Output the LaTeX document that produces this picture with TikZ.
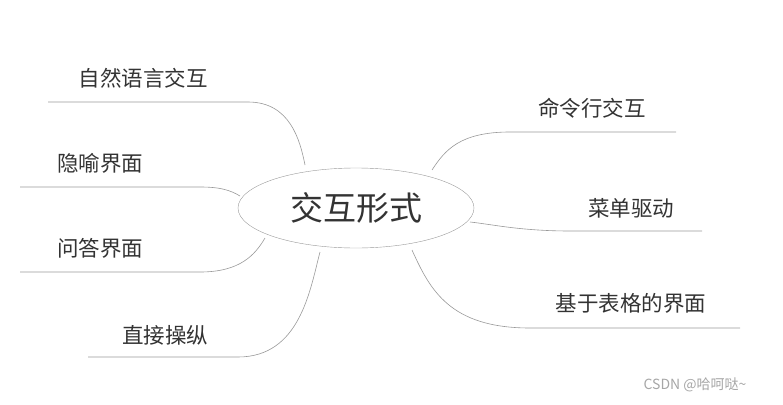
\documentclass[tikz,border=0pt]{standalone}
\usepackage{fontspec}
\usetikzlibrary{shapes.geometric}
\newfontfamily\cjk{Noto Sans CJK SC}
\begin{document}
\begin{tikzpicture}[x=1pt,y=-1pt,
 br/.style={draw=gray!80,line width=0.6pt},
 lab/.style={font=\cjk\fontsize{21.5}{24}\selectfont,text=black!80,inner sep=0pt}]
\useasboundingbox (0,0) rectangle (783,404);
\node[ellipse,draw=gray!80,minimum width=236,minimum height=80,inner sep=0pt] (c) at (356,208) {};
\node[font=\cjk\fontsize{33}{36}\selectfont,text=black!80] at (c) {交互形式};
\node[lab] (t1) at (143,78) {自然语言交互};
\node[lab] (t2) at (100,163) {隐喻界面};
\node[lab] (t3) at (100,248) {问答界面};
\node[lab] (t4) at (165,335) {直接操纵};
\node[lab] (t5) at (592,108) {命令行交互};
\node[lab] (t6) at (631,208) {菜单驱动};
\node[lab] (t7) at (631,303) {基于表格的界面};
\coordinate (a1) at (48,102); \coordinate (b1) at (248,102);
\coordinate (a2) at (20,187); \coordinate (b2) at (200,187);
\coordinate (a3) at (20,272); \coordinate (b3) at (200,272);
\coordinate (a4) at (88,357); \coordinate (b4) at (238,357);
\coordinate (a5) at (676,132); \coordinate (b5) at (510,132);
\coordinate (a6) at (702,231); \coordinate (b6) at (570,231);
\coordinate (a7) at (740,328); \coordinate (b7) at (530,328);
\draw[br] (a1) -- (b1) .. controls (290,102) and (300,140) .. (305,165);
\draw[br] (a2) -- (b2) .. controls (220,187) and (230,190) .. (240,196);
\draw[br] (a3) -- (b3) .. controls (240,272) and (255,255) .. (265,238);
\draw[br] (a4) -- (b4) .. controls (300,357) and (310,290) .. (320,252);
\draw[br] (a5) -- (b5) .. controls (460,132) and (445,150) .. (432,170);
\draw[br] (a6) -- (b6) .. controls (520,231) and (490,224) .. (470,222);
\draw[br] (a7) -- (b7) .. controls (450,328) and (430,290) .. (412,250);
\node[font=\cjk\fontsize{14}{16}\selectfont,text=gray!70,inner sep=0pt] (w) at (695,385) {CSDN @哈呵哒\textasciitilde};
\end{tikzpicture}
\end{document}
